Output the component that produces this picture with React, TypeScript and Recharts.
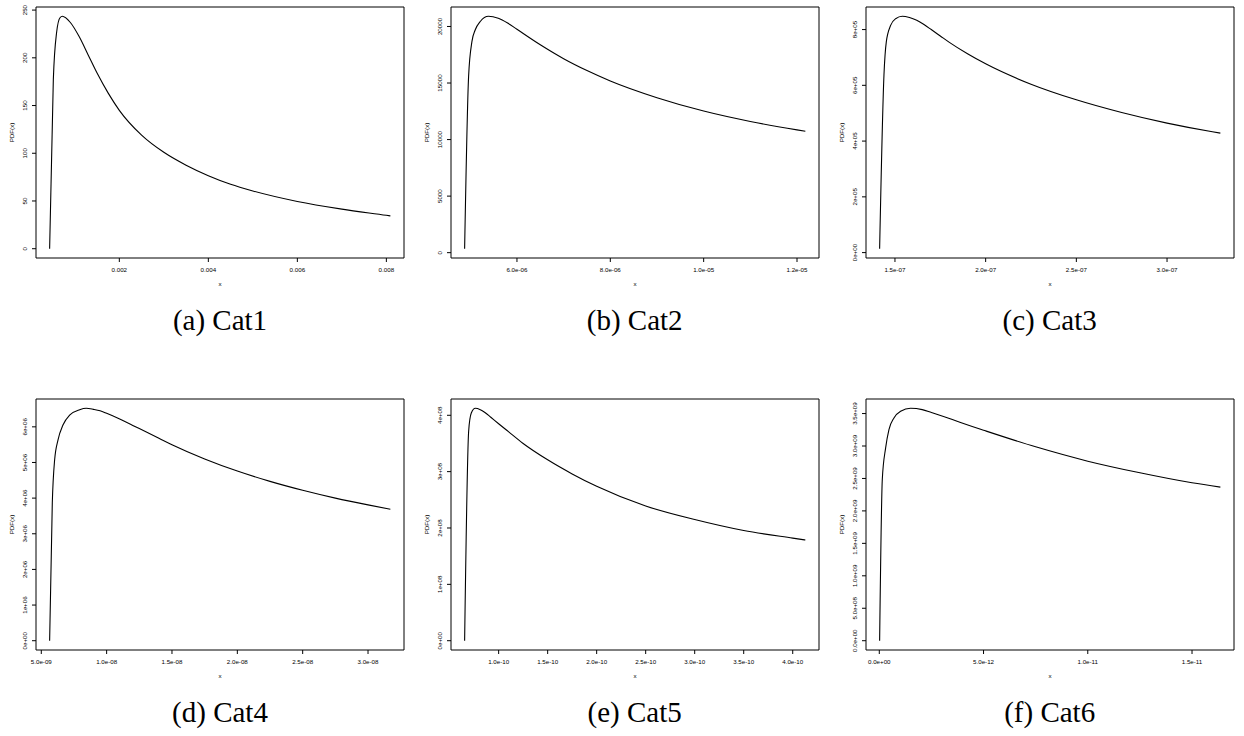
import React from 'react';
import { LineChart, Line, XAxis, YAxis, ReferenceArea, Label } from 'recharts';

// ---------- Data ----------
const cat1X = [0.000434, 0.000517, 0.000592, 0.000667, 0.00072, 0.0009, 0.0011, 0.0013, 0.0015, 0.00175, 0.002, 0.0025, 0.003, 0.0035, 0.004, 0.0045, 0.005, 0.006, 0.007, 0.008, 0.00809];
const cat1Y = [0, 177, 227, 242, 243.5, 237, 222, 203, 184, 163, 145, 119, 101, 87.5, 76.5, 67.5, 60.5, 49.5, 41.5, 35, 34.4];
const cat1XTicks = [0.002, 0.004, 0.006, 0.008];
const cat1XLabels = ['0.002', '0.004', '0.006', '0.008'];
const cat1YTicks = [0, 50, 100, 150, 200, 250];
const cat1YLabels = ['0', '50', '100', '150', '200', '250'];

const cat2X = [4.879e-6, 4.964e-6, 5.036e-6, 5.107e-6, 5.214e-6, 5.39e-6, 5.6e-6, 5.8e-6, 6.0e-6, 6.5e-6, 7.0e-6, 7.5e-6, 8.0e-6, 9.0e-6, 1.0e-5, 1.1e-5, 1.2e-5, 1.2179e-5];
const cat2Y = [350, 15588, 18676, 19706, 20441, 20900, 20720, 20300, 19750, 18380, 17150, 16100, 15180, 13700, 12520, 11600, 10860, 10740];
const cat2XTicks = [6e-6, 8e-6, 1e-5, 1.2e-5];
const cat2XLabels = ['6.0e-06', '8.0e-06', '1.0e-05', '1.2e-05'];
const cat2YTicks = [0, 5000, 10000, 15000, 20000];
const cat2YLabels = ['0', '5000', '10000', '15000', '20000'];

const cat3X = [1.4155e-7, 1.4394e-7, 1.4523e-7, 1.4761e-7, 1.5037e-7, 1.54e-7, 1.58e-7, 1.62e-7, 1.66e-7, 1.7e-7, 1.75e-7, 1.8e-7, 1.9e-7, 2.0e-7, 2.25e-7, 2.5e-7, 2.75e-7, 3.0e-7, 3.25e-7, 3.294e-7];
const cat3Y = [14000, 637000, 756000, 815000, 839000, 847600, 843000, 833000, 818000, 800000, 777000, 754000, 713000, 677000, 604000, 548000, 502400, 464300, 433300, 428600];
const cat3XTicks = [1.5e-7, 2.0e-7, 2.5e-7, 3.0e-7];
const cat3XLabels = ['1.5e-07', '2.0e-07', '2.5e-07', '3.0e-07'];
const cat3YTicks = [0, 2e5, 4e5, 6e5, 8e5];
const cat3YLabels = ['0e+00', '2e+05', '4e+05', '6e+05', '8e+05'];

const cat4X = [5.638e-9, 5.842e-9, 6.02e-9, 6.276e-9, 6.658e-9, 7.168e-9, 7.934e-9, 8.44e-9, 9.0e-9, 9.5e-9, 1.0e-8, 1.1e-8, 1.2e-8, 1.3e-8, 1.4e-8, 1.5e-8, 1.75e-8, 2.0e-8, 2.25e-8, 2.5e-8, 2.75e-8, 3.0e-8, 3.171e-8];
const cat4Y = [0, 3.86e6, 5.07e6, 5.63e6, 6.05e6, 6.33e6, 6.48e6, 6.52e6, 6.49e6, 6.45e6, 6.38e6, 6.22e6, 6.04e6, 5.86e6, 5.68e6, 5.5e6, 5.1e6, 4.76e6, 4.47e6, 4.22e6, 4.0e6, 3.81e6, 3.69e6];
const cat4XTicks = [5e-9, 1e-8, 1.5e-8, 2e-8, 2.5e-8, 3e-8];
const cat4XLabels = ['5.0e-09', '1.0e-08', '1.5e-08', '2.0e-08', '2.5e-08', '3.0e-08'];
const cat4YTicks = [0, 1e6, 2e6, 3e6, 4e6, 5e6, 6e6];
const cat4YLabels = ['0e+00', '1e+06', '2e+06', '3e+06', '4e+06', '5e+06', '6e+06'];

const cat5X = [6.53e-11, 6.94e-11, 7.21e-11, 7.62e-11, 8.13e-11, 8.6e-11, 9.2e-11, 1.0e-10, 1.1e-10, 1.25e-10, 1.5e-10, 1.75e-10, 2.0e-10, 2.5e-10, 3.0e-10, 3.5e-10, 4.0e-10, 4.129e-10];
const cat5Y = [0, 3.717e8, 4.04e8, 4.124e8, 4.1e8, 4.05e8, 3.965e8, 3.85e8, 3.71e8, 3.5e8, 3.21e8, 2.96e8, 2.74e8, 2.39e8, 2.15e8, 1.955e8, 1.82e8, 1.787e8];
const cat5XTicks = [1e-10, 1.5e-10, 2e-10, 2.5e-10, 3e-10, 3.5e-10, 4e-10];
const cat5XLabels = ['1.0e-10', '1.5e-10', '2.0e-10', '2.5e-10', '3.0e-10', '3.5e-10', '4.0e-10'];
const cat5YTicks = [0, 1e8, 2e8, 3e8, 4e8];
const cat5YLabels = ['0e+00', '1e+08', '2e+08', '3e+08', '4e+08'];

const cat6X = [1.6e-14, 1.44e-13, 3.04e-13, 4.63e-13, 7.03e-13, 1.022e-12, 1.502e-12, 2.06e-12, 2.5e-12, 5.0e-12, 7.5e-12, 1.0e-11, 1.25e-11, 1.5e-11, 1.636e-11];
const cat6Y = [0, 2.485e9, 2.971e9, 3.253e9, 3.432e9, 3.535e9, 3.581e9, 3.56e9, 3.515e9, 3.243e9, 2.987e9, 2.766e9, 2.587e9, 2.433e9, 2.367e9];
const cat6XTicks = [0, 5e-12, 1e-11, 1.5e-11];
const cat6XLabels = ['0.0e+00', '5.0e-12', '1.0e-11', '1.5e-11'];
const cat6YTicks = [0, 5e8, 1e9, 1.5e9, 2e9, 2.5e9, 3e9, 3.5e9];
const cat6YLabels = ['0.0e+00', '5.0e+08', '1.0e+09', '1.5e+09', '2.0e+09', '2.5e+09', '3.0e+09', '3.5e+09'];

const captions = ['(a) Cat1', '(b) Cat2', '(c) Cat3', '(d) Cat4', '(e) Cat5', '(f) Cat6'];
const xTitle = 'x';
const yTitle = 'PDF(x)';

// ---------- Layout ----------
const SANS = '"Liberation Sans", Arial, Helvetica, sans-serif';
const SERIF = '"Liberation Serif", "Times New Roman", serif';
const FS = 6.2;
const PANEL_W = 415;
const PANEL_H = 300;
const COL_LEFT = [0, 414.7, 829.7];
const ROW_TOP = [0, 392];
const BOX_LEFT = 36;
const BOX_RIGHT = 404;
const CAPTION_BASELINE = [330, 722];

function findLabel(ticks: number[], labels: string[], v: number) {
  let best = -1;
  let bd = Infinity;
  ticks.forEach((t, i) => {
    const d = Math.abs(t - v);
    if (d < bd) { bd = d; best = i; }
  });
  return best >= 0 ? labels[best] : '';
}

function makeXTick(ticks: number[], labels: string[]) {
  return (props: any) => {
    const { x, y, payload } = props;
    return (
      <text x={x} y={y + 7.5} textAnchor="middle" fontSize={FS} fontFamily={SANS} fill="#000">
        {findLabel(ticks, labels, payload.value)}
      </text>
    );
  };
}

function makeYTick(ticks: number[], labels: string[]) {
  return (props: any) => {
    const { x, y, payload } = props;
    const bx = x - 3;
    return (
      <text x={bx} y={y} transform={`rotate(-90, ${bx}, ${y})`} textAnchor="middle" fontSize={FS} fontFamily={SANS} fill="#000">
        {findLabel(ticks, labels, payload.value)}
      </text>
    );
  };
}

type PanelProps = {
  xs: number[]; ys: number[];
  xTicks: number[]; xLabels: string[];
  yTicks: number[]; yLabels: string[];
  left: number; top: number;
};

function Panel({ xs, ys, xTicks, xLabels, yTicks, yLabels, left, top }: PanelProps) {
  const data = xs.map((x, i) => ({ x, y: ys[i] }));
  const xmin = Math.min(...xs), xmax = Math.max(...xs);
  const ymin = Math.min(...ys), ymax = Math.max(...ys);
  const dx = (xmax - xmin) * 0.04;
  const dy = (ymax - ymin) * 0.04;
  const xDomain: [number, number] = [xmin - dx, xmax + dx];
  const yDomain: [number, number] = [ymin - dy, ymax + dy];

  const xLabelContent = (p: any) => {
    const vb = p.viewBox || {};
    return (
      <text x={vb.x + vb.width / 2} y={vb.y + 28} textAnchor="middle" fontSize={FS} fontFamily={SANS} fill="#000">{xTitle}</text>
    );
  };
  const yLabelContent = (p: any) => {
    const vb = p.viewBox || {};
    const cx = 13.5;
    const cy = vb.y + vb.height / 2;
    return (
      <text x={cx} y={cy} transform={`rotate(-90, ${cx}, ${cy})`} textAnchor="middle" fontSize={FS} fontFamily={SANS} fill="#000">{yTitle}</text>
    );
  };

  return (
    <div style={{ position: 'absolute', left, top, width: PANEL_W, height: PANEL_H }}>
      <LineChart width={PANEL_W} height={PANEL_H} data={data} margin={{ top: 7, right: PANEL_W - BOX_RIGHT, bottom: 0, left: 0 }}>
        <XAxis
          dataKey="x"
          type="number"
          domain={xDomain}
          ticks={xTicks}
          allowDataOverflow
          interval={0}
          height={42}
          axisLine={false}
          tickLine={{ stroke: '#000', strokeWidth: 1 }}
          tickSize={4}
          tickMargin={2}
          tick={makeXTick(xTicks, xLabels)}
        >
          <Label content={xLabelContent} />
        </XAxis>
        <YAxis
          type="number"
          domain={yDomain}
          ticks={yTicks}
          allowDataOverflow
          interval={0}
          width={BOX_LEFT}
          axisLine={false}
          tickLine={{ stroke: '#000', strokeWidth: 1 }}
          tickSize={4}
          tickMargin={2}
          tick={makeYTick(yTicks, yLabels)}
        >
          <Label content={yLabelContent} />
        </YAxis>
        <ReferenceArea
          x1={xDomain[0]} x2={xDomain[1]} y1={yDomain[0]} y2={yDomain[1]}
          fill="none" fillOpacity={0} stroke="#000" strokeWidth={1} strokeOpacity={1}
        />
        <Line
          dataKey="y"
          type="monotone"
          stroke="#000"
          strokeWidth={1.1}
          dot={false}
          activeDot={false}
          isAnimationActive={false}
        />
      </LineChart>
    </div>
  );
}

export default function App() {
  const panels = [
    { xs: cat1X, ys: cat1Y, xTicks: cat1XTicks, xLabels: cat1XLabels, yTicks: cat1YTicks, yLabels: cat1YLabels },
    { xs: cat2X, ys: cat2Y, xTicks: cat2XTicks, xLabels: cat2XLabels, yTicks: cat2YTicks, yLabels: cat2YLabels },
    { xs: cat3X, ys: cat3Y, xTicks: cat3XTicks, xLabels: cat3XLabels, yTicks: cat3YTicks, yLabels: cat3YLabels },
    { xs: cat4X, ys: cat4Y, xTicks: cat4XTicks, xLabels: cat4XLabels, yTicks: cat4YTicks, yLabels: cat4YLabels },
    { xs: cat5X, ys: cat5Y, xTicks: cat5XTicks, xLabels: cat5XLabels, yTicks: cat5YTicks, yLabels: cat5YLabels },
    { xs: cat6X, ys: cat6Y, xTicks: cat6XTicks, xLabels: cat6XLabels, yTicks: cat6YTicks, yLabels: cat6YLabels },
  ];
  return (
    <div style={{ position: 'absolute', left: 0, top: 0, width: 1244, height: 736, background: '#fff', overflow: 'hidden' }}>
      {panels.map((p, i) => (
        <Panel key={i} {...p} left={COL_LEFT[i % 3]} top={ROW_TOP[Math.floor(i / 3)]} />
      ))}
      <svg width={1244} height={736} style={{ position: 'absolute', left: 0, top: 0, pointerEvents: 'none' }}>
        {captions.map((c, i) => (
          <text
            key={c}
            x={COL_LEFT[i % 3] + (BOX_LEFT + BOX_RIGHT) / 2}
            y={CAPTION_BASELINE[Math.floor(i / 3)]}
            textAnchor="middle"
            fontSize={29}
            fontFamily={SERIF}
            fill="#000"
          >
            {c}
          </text>
        ))}
      </svg>
    </div>
  );
}
